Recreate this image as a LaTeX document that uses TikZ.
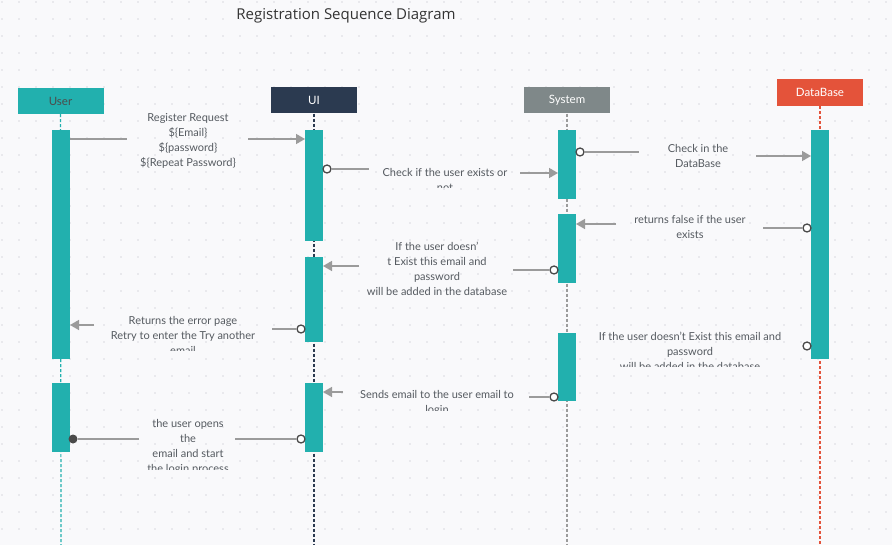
\documentclass[tikz,border=0pt]{standalone}
\usepackage{fontspec}
\setmainfont{Lato}
\newfontfamily\titlefont{Open Sans}
\usetikzlibrary{arrows.meta}
\definecolor{bg}{HTML}{F9F9FB}
\definecolor{dotc}{HTML}{D9D9DF}
\definecolor{tealc}{HTML}{22B0AE}
\definecolor{navy}{HTML}{2B3A50}
\definecolor{sysgray}{HTML}{7F8889}
\definecolor{dbred}{HTML}{E4533A}
\definecolor{msg}{HTML}{9B9B9B}
\definecolor{txt}{HTML}{555A60}
\definecolor{ring}{HTML}{4A4A4A}
\begin{document}
\begin{tikzpicture}[x=1pt,y=-1pt,
  head/.style={minimum width=86pt,minimum height=26pt,inner sep=0pt,font=\fontsize{11.5}{13}\selectfont},
  bar/.style={fill=tealc,draw=none,minimum width=18pt,inner sep=0pt,anchor=north},
  life/.style={dash pattern=on 3pt off 2pt,line width=1.2pt},
  msgline/.style={draw=msg,line width=1.5pt},
  arr/.style={msgline,-{Triangle[length=9pt,width=10pt]}},
  lbl/.style={text=txt,align=center,font=\fontsize{11}{15}\selectfont,inner sep=0pt},
  ringc/.style={circle,draw=ring,fill=white,line width=1.3pt,minimum size=8pt,inner sep=0pt},
  dotend/.style={circle,fill=ring,minimum size=9pt,inner sep=0pt}]
\useasboundingbox (0,0) rectangle (892,545);
\fill[bg] (0,0) rectangle (892,545);
\foreach \i in {0,...,52}{\foreach \j in {0,...,32}{\fill[dotc] (2+17*\i,2+17*\j) circle (0.8);}}
% title
\node[font=\titlefont\fontsize{15}{17}\selectfont,text=black!80] (title) at (346,16) {Registration Sequence Diagram};
% heads
\node[head,fill=tealc,text=black!70] (hU) at (60.5,101) {User};
\node[head,fill=navy,text=white] (hI) at (314,100.5) {UI};
\node[head,fill=sysgray,text=white] (hS) at (567,100.5) {System};
\node[head,fill=dbred,text=white,minimum height=27pt] (hD) at (820,92.5) {DataBase};
% lifelines
\coordinate (eU) at (61,545);
\coordinate (eI) at (314,545);
\coordinate (eS) at (567,545);
\coordinate (eD) at (820,545);
\draw[life,draw=tealc] (hU.south) -- (eU);
\draw[life,draw=navy] (hI.south) -- (eI);
\draw[life,draw=msg] (hS.south) -- (eS);
\draw[life,draw=dbred] (hD.south) -- (eD);
% activation bars
\node[bar,minimum height=229pt] (u1) at (61,130) {};
\node[bar,minimum height=69pt] (u2) at (61,383) {};
\node[bar,minimum height=111pt] (i1) at (314,130) {};
\node[bar,minimum height=85pt] (i2) at (314,257) {};
\node[bar,minimum height=69pt] (i3) at (314,383) {};
\node[bar,minimum height=69pt] (s1) at (567,130) {};
\node[bar,minimum height=69pt] (s2) at (567,214) {};
\node[bar,minimum height=68pt] (s3) at (567,333) {};
\node[bar,minimum height=229pt] (d1) at (820,130) {};
% message 1
\node[lbl] (l1) at (188,140.5) {Register Request\\\$\{Email\}\\\$\{password\}\\\$\{Repeat Password\}};
\coordinate (m1a) at (70,139); \coordinate (m1b) at (127,139);
\coordinate (m1c) at (248,139); \coordinate (m1d) at (305,139);
\draw[msgline] (m1a) -- (m1b);
\draw[arr] (m1c) -- (m1d);
% message 2
\begin{scope}
\clip (370,150) rectangle (520,188);
\node[lbl] (l2) at (445,179.5) {Check if the user exists or\\not};
\end{scope}
\node[ringc] (r2) at (327,169) {};
\coordinate (m2b) at (369,169); \coordinate (m2c) at (520,173); \coordinate (m2d) at (558,173);
\draw[msgline] (r2) -- (m2b);
\draw[arr] (m2c) -- (m2d);
% message 3
\node[lbl] (l3) at (698,155.5) {Check in the\\DataBase};
\node[ringc] (r3) at (580,152) {};
\coordinate (m3b) at (639,152); \coordinate (m3c) at (756,156); \coordinate (m3d) at (811,156);
\draw[msgline] (r3) -- (m3b);
\draw[arr] (m3c) -- (m3d);
% message 4
\node[lbl] (l4) at (690,226.5) {returns false if the user\\exists};
\node[ringc] (r4) at (807,228) {};
\coordinate (m4b) at (763,228); \coordinate (m4c) at (616,224); \coordinate (m4d) at (576,224);
\draw[msgline] (r4) -- (m4b);
\draw[arr] (m4c) -- (m4d);
% message 5
\node[lbl] (l5) at (437,269) {If the user doesn'\\t Exist this email and\\password\\will be added in the database};
\node[ringc] (r5) at (554,270) {};
\coordinate (m5b) at (513,270); \coordinate (m5c) at (359,266); \coordinate (m5d) at (323,266);
\draw[msgline] (r5) -- (m5b);
\draw[arr] (m5c) -- (m5d);
% message 6
\begin{scope}
\clip (90,300) rectangle (280,350.5);
\node[lbl] (l6) at (183,335) {Returns the error page\\Retry to enter the Try another\\email};
\end{scope}
\node[ringc] (r6) at (301,329) {};
\coordinate (m6b) at (272,329); \coordinate (m6c) at (94,325); \coordinate (m6d) at (70,325);
\draw[msgline] (r6) -- (m6b);
\draw[arr] (m6c) -- (m6d);
% message 7
\begin{scope}
\clip (580,320) rectangle (800,367);
\node[lbl] (l7) at (690,351.5) {If the user doesn't Exist this email and\\password\\will be added in the database};
\end{scope}
\node[ringc] (r7) at (807,346) {};
% message 8
\begin{scope}
\clip (345,380) rectangle (530,410);
\node[lbl] (l8) at (437,402.5) {Sends email to the user email to\\login};
\end{scope}
\node[ringc] (r8) at (554,397) {};
\coordinate (m8b) at (529,397); \coordinate (m8c) at (343,392); \coordinate (m8d) at (323,392);
\draw[msgline] (r8) -- (m8b);
\draw[arr] (m8c) -- (m8d);
% message 9
\begin{scope}
\clip (130,410) rectangle (250,469);
\node[lbl] (l9) at (188,446.5) {the user opens\\the\\email and start\\the login process};
\end{scope}
\node[ringc] (r9) at (301,439) {};
\node[dotend] (f9) at (73,439) {};
\coordinate (m9b) at (235,439); \coordinate (m9c) at (139,439);
\draw[msgline] (r9) -- (m9b);
\draw[msgline] (m9c) -- (f9);
\end{tikzpicture}
\end{document}
